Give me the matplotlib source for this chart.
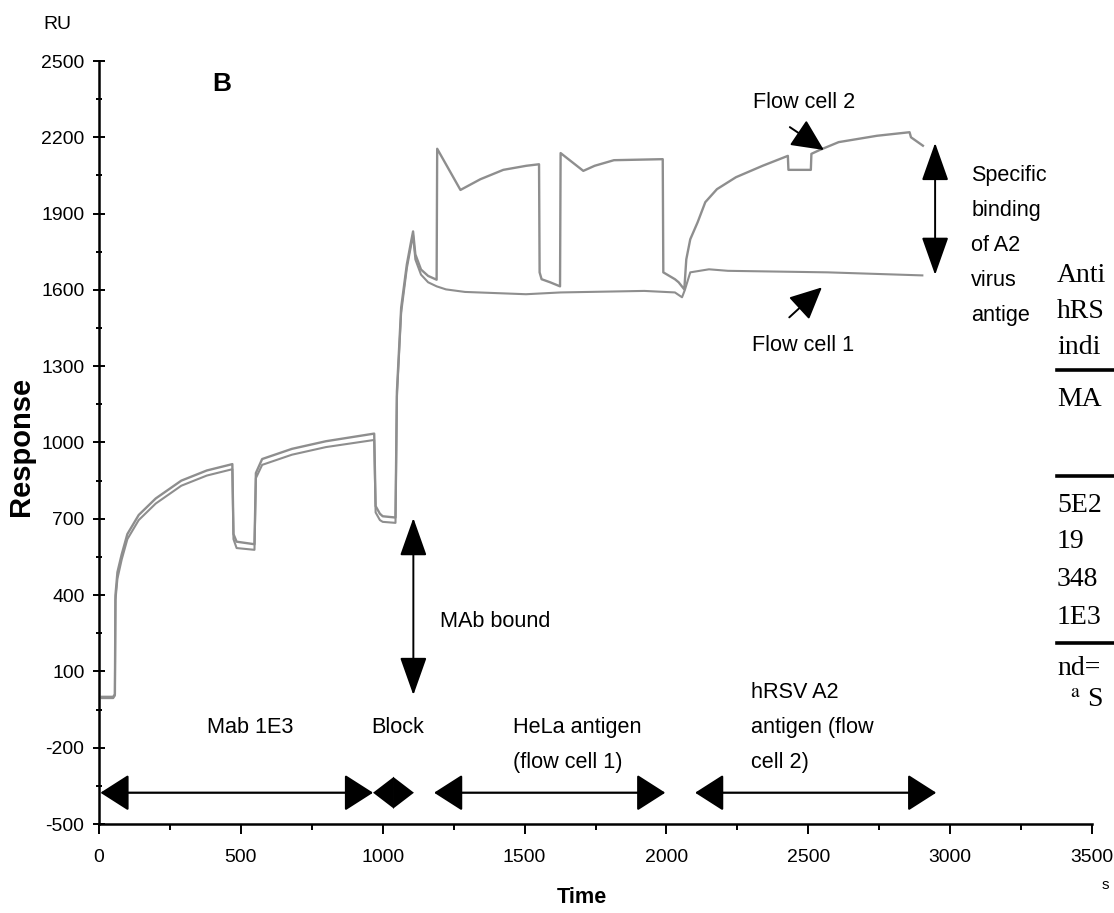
import numpy as np
import matplotlib
matplotlib.use('Agg')
import matplotlib.pyplot as plt
from matplotlib import font_manager
from matplotlib.lines import Line2D

# sensorgram traces (time s, response RU)
t_cell2 = [10, 50, 56, 58, 65, 80, 100, 140, 200, 290, 380, 470, 474, 485, 548, 553, 575, 680, 800, 970,
           975, 990, 1000, 1045, 1050, 1065, 1085, 1100, 1107, 1115, 1135, 1160, 1190, 1192, 1274, 1344,
           1425, 1506, 1551, 1553, 1560, 1590, 1625, 1627, 1707, 1747, 1815, 1987, 1989, 2030, 2043, 2063,
           2070, 2084, 2110, 2137, 2178, 2245, 2339, 2428, 2430, 2509, 2511, 2540, 2607, 2742, 2857, 2862, 2904]
r_cell2 = [0, 0, 10, 400, 490, 560, 640, 715, 780, 850, 890, 915, 640, 610, 600, 880, 935, 975, 1005, 1035,
           750, 720, 710, 705, 1200, 1530, 1700, 1790, 1830, 1740, 1680, 1655, 1640, 2155, 1993, 2035,
           2072, 2088, 2094, 1669, 1642, 1630, 1614, 2138, 2068, 2088, 2110, 2114, 1669, 1642, 1630, 1602,
           1720, 1799, 1866, 1945, 1996, 2043, 2088, 2127, 2072, 2072, 2135, 2150, 2181, 2206, 2220, 2200, 2167]

t_cell1 = [10, 50, 56, 58, 65, 80, 100, 140, 200, 290, 380, 470, 474, 485, 548, 553, 575, 680, 800, 970,
           975, 990, 1000, 1045, 1050, 1065, 1085, 1100, 1107, 1115, 1135, 1160, 1190, 1223, 1290, 1505,
           1627, 1922, 2030, 2055, 2065, 2084, 2150, 2217, 2568, 2902]
r_cell1 = [-5, -5, 5, 380, 465, 540, 620, 695, 760, 830, 870, 895, 620, 585, 578, 860, 912, 952, 982, 1010,
           725, 695, 688, 684, 1180, 1510, 1685, 1775, 1815, 1720, 1660, 1630, 1614, 1602, 1592, 1583,
           1590, 1596, 1590, 1571, 1600, 1669, 1681, 1675, 1669, 1657]

# injection phases drawn as double arrows along the bottom
phase_start = [5, 1181, 2101]
phase_end = [966, 1996, 2951]
block_start, block_end = 966, 1110
phase_y = -377

yticks = np.arange(-500, 2501, 300)
xticks = np.arange(0, 3501, 500)

# part of a table that is cut off at the right edge of the page
table_lines = ['Anti', 'hRS', 'indi', 'MA', '5E2', '19', '348', '1E3', 'nd=']
table_py = [275, 312, 347, 400, 505, 542, 580, 617, 668]
table_rules_py = [370, 476, 643]

try:
    font_manager.findfont('Liberation Sans Narrow', fallback_to_default=False)
    SANS = 'Liberation Sans Narrow'
    k = 1.0
except ValueError:
    SANS = 'Liberation Sans'
    k = 0.82

plt.rcParams['font.family'] = [SANS, 'DejaVu Sans']
plt.rcParams['axes.unicode_minus'] = False

W, H = 1114, 913
fig = plt.figure(figsize=(W / 100, H / 100), dpi=100)
ax = fig.add_axes([99 / W, (H - 824) / H, 993 / W, 763 / H])

grey = '#8e8e8e'
ax.plot(t_cell1, r_cell1, color=grey, lw=1.5)
ax.plot(t_cell2, r_cell2, color=grey, lw=1.7)

ax.set_xlim(0, 3500)
ax.set_ylim(-500, 2500)
ax.set_xticks(xticks)
ax.set_yticks(yticks)
ax.set_xticks(np.arange(250, 3500, 500), minor=True)
ax.set_yticks(np.arange(-350, 2500, 300), minor=True)
for s in ['top', 'right']:
    ax.spines[s].set_visible(False)
for s in ['left', 'bottom']:
    ax.spines[s].set_linewidth(1.8)
ax.tick_params(axis='y', which='major', direction='inout', length=9, width=1.4, labelsize=17 * k, pad=6)
ax.tick_params(axis='y', which='minor', direction='inout', length=5, width=1.4)
ax.tick_params(axis='x', which='major', direction='out', length=7, width=1.4, labelsize=17 * k, pad=11)
ax.tick_params(axis='x', which='minor', direction='out', length=4, width=1.4)

ax.set_xlabel('Time', fontsize=19 * k, fontweight='bold')
ax.xaxis.set_label_coords(0.486, -0.083)
ax.set_ylabel('Response', fontsize=21, fontweight='bold')
ax.yaxis.set_label_coords(-0.064, 0.495)

ax.text(-148, 2645, 'RU', fontsize=17 * k, ha='center', va='center', clip_on=False)
ax.text(434, 2410, 'B', fontsize=23 * k, fontweight='bold', ha='center', va='center')

# phase arrows
big = dict(arrowstyle='<|-|>,head_length=1.8,head_width=1.15', mutation_scale=10,
           color='k', lw=1.6, shrinkA=0, shrinkB=0)
for a, b in zip(phase_start, phase_end):
    ax.annotate('', xy=(b, phase_y), xytext=(a, phase_y), arrowprops=big, annotation_clip=False)
# the short "Block" arrow: two heads back to back
half = dict(arrowstyle='-|>,head_length=1.5,head_width=1.15', mutation_scale=10,
            color='k', lw=0, shrinkA=0, shrinkB=0)
mid = (block_start + block_end) / 2
ax.annotate('', xy=(block_start, phase_y), xytext=(mid, phase_y), arrowprops=half)
ax.annotate('', xy=(block_end, phase_y), xytext=(mid, phase_y), arrowprops=half)

vert = dict(arrowstyle='<|-|>,head_length=2.4,head_width=0.85', mutation_scale=10,
            color='k', lw=1.4, shrinkA=0, shrinkB=0)
ax.annotate('', xy=(1108, 703), xytext=(1108, 7), arrowprops=vert)
ax.annotate('', xy=(2947, 2178), xytext=(2947, 1659), arrowprops=vert)

small = dict(arrowstyle='-|>,head_length=2.0,head_width=0.95', mutation_scale=10,
             color='k', lw=1.4, shrinkA=0, shrinkB=0)
ax.annotate('', xy=(2555, 2150), xytext=(2435, 2240), arrowprops=small)
ax.annotate('', xy=(2548, 1610), xytext=(2433, 1492), arrowprops=small)

fs = 19 * k
dy = 139
ax.text(2485, 2335, 'Flow cell 2', fontsize=fs, ha='center', va='center')
ax.text(2482, 1383, 'Flow cell 1', fontsize=fs, ha='center', va='center')
ax.text(1202, 298, 'MAb bound', fontsize=fs, ha='left', va='center')
ax.text(532, -119, 'Mab 1E3', fontsize=fs, ha='center', va='center')
ax.text(1054, -119, 'Block', fontsize=fs, ha='center', va='center')
for i, line in enumerate(['HeLa antigen', '(flow cell 1)']):
    ax.text(1459, -119 - i * dy, line, fontsize=fs, ha='left', va='center')
for i, line in enumerate(['hRSV A2', 'antigen (flow', 'cell 2)']):
    ax.text(2298, 19 - i * dy, line, fontsize=fs, ha='left', va='center')
for i, line in enumerate(['Specific', 'binding', 'of A2', 'virus', 'antige']):
    ax.text(3074, 2048 - i * 137, line, fontsize=fs, ha='left', va='center', clip_on=False)

for line, py in zip(table_lines, table_py):
    fig.text(1057 / W, 1 - py / H, line, fontsize=20, family='Liberation Serif', ha='left', va='center')
fig.text(1070 / W, 1 - 700 / H, r'$^{\mathrm{a}}$ S', fontsize=20, family='Liberation Serif',
         math_fontfamily='stix', ha='left', va='center')
for py in table_rules_py:
    fig.add_artist(Line2D([1057 / W, 1], [1 - py / H, 1 - py / H], color='k', lw=2.6))

fig.text(1105 / W, 1 - 885 / H, 's', fontsize=11, ha='center', va='center')

fig.savefig('out.png', dpi=100)
